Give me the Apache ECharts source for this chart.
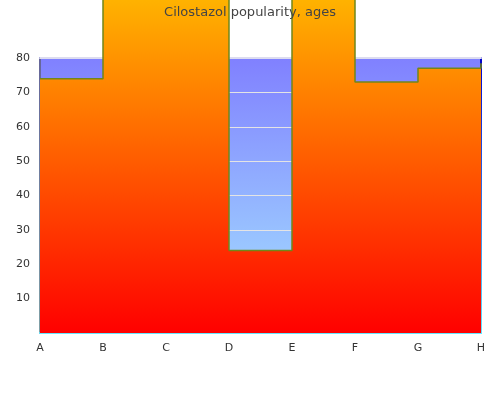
<!DOCTYPE html>
<html>
<head>
  <meta charset="UTF-8" />
  <title>Cilostazol popularity, ages</title>
  <style>
    body { margin: 0; padding: 0 }
    #chart { width: 500px; height: 400px }
  </style>
  <script src="https://cdn.jsdelivr.net/npm/echarts@6/dist/echarts.min.js"></script>
</head>
<body>
  <div id="chart"></div>
  <script>
    // data
    const categories = ['A', 'B', 'C', 'D', 'E', 'F', 'G', 'H'];
    const ages = [74, 100, 100, 24, 100, 73, 77, 78.5];
    const yTicks = [0, 10, 20, 30, 40, 50, 60, 70, 80];

    const chart = echarts.init(document.getElementById('chart'));
    const grad = (top, bottom) => new echarts.graphic.LinearGradient(0, 0, 0, 1, [
      { offset: 0, color: top },
      { offset: 1, color: bottom }
    ]);

    chart.setOption({
      animation: false,
      backgroundColor: '#fff',
      title: {
        text: 'Cilostazol popularity, ages',
        left: 'center',
        top: 1,
        textStyle: { fontFamily: 'DejaVu Sans', fontSize: 13, fontWeight: 'normal', color: '#444' }
      },
      grid: {
        left: 40, right: 19, top: 58, bottom: 67,
        show: true,
        backgroundColor: grad('#8080ff', '#a6e6ff'),
        borderColor: grad('#0000cc', '#66e6ff'),
        borderWidth: 2
      },
      xAxis: [{
        type: 'category',
        data: categories,
        boundaryGap: false,
        axisLine: { show: true, lineStyle: { color: '#66e6ff', width: 2 } },
        axisTick: { show: false },
        axisLabel: { fontFamily: 'DejaVu Sans', fontSize: 11, color: '#333', margin: 10 }
      }, {
        // light line along the top edge
        type: 'category',
        position: 'top',
        data: categories,
        boundaryGap: false,
        axisLine: { show: true, lineStyle: { color: '#dcdcf0', width: 2 } },
        axisTick: { show: false },
        axisLabel: { show: false }
      }],
      yAxis: {
        type: 'value',
        min: yTicks[0],
        max: yTicks[yTicks.length - 1],
        interval: 10,
        axisLine: { show: true, lineStyle: { color: '#888', width: 1.5 } },
        axisTick: { show: false },
        splitLine: { lineStyle: { color: '#e4e4e4', width: 1 } },
        axisLabel: {
          fontFamily: 'DejaVu Sans', fontSize: 11, color: '#333', margin: 10,
          formatter: v => (v === 0 ? '' : v)
        }
      },
      series: [{
        type: 'line',
        step: 'end',
        data: ages,
        clip: false,
        symbol: 'none',
        lineStyle: { color: '#72861a', width: 1.5 },
        areaStyle: { color: grad('#ffb800', '#ff0000'), opacity: 1 }
      }]
    });
  </script>
</body>
</html>
